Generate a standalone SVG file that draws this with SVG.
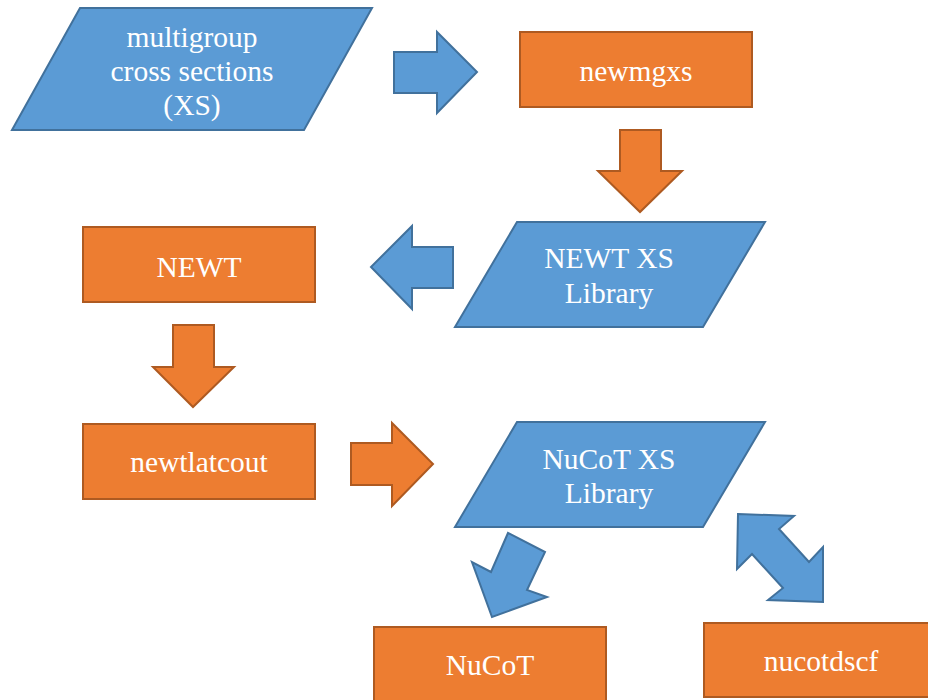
<svg xmlns="http://www.w3.org/2000/svg" width="928" height="700" viewBox="0 0 928 700">
  <style>
    .data { fill: #5B9BD5; stroke: #41719C; stroke-width: 2; stroke-linejoin: miter; }
    .proc { fill: #ED7D31; stroke: #AE5A21; stroke-width: 2; }
    .blue-arrow { fill: #5B9BD5; stroke: #41719C; stroke-width: 2; stroke-linejoin: miter; }
    .orange-arrow { fill: #ED7D31; stroke: #AE5A21; stroke-width: 2; stroke-linejoin: miter; }
    .label { font-family: 'Liberation Serif', 'Times New Roman', serif; font-size: 29.5px; fill: #FFFFFF; text-anchor: middle; }
  </style>
  <rect width="928" height="700" fill="#FFFFFF"/>

  <!-- block arrows linking the steps -->
  <g id="connectors">
    <polygon class="blue-arrow" points="394,52 437,52 437,32 477,72 437,113 437,93 394,93"/>
    <polygon class="orange-arrow" points="620,130 661,130 661,171 682,171 640,212 598,171 620,171"/>
    <polygon class="blue-arrow" points="453,247 412,247 412,226 371,267 412,309 412,288 453,288"/>
    <polygon class="orange-arrow" points="173,325 214,325 214,367 234,367 193,407 153,367 173,367"/>
    <polygon class="orange-arrow" points="351,443 392,443 392,423 433,464 392,506 392,485 351,485"/>
    <polygon class="blue-arrow" points="508,533 545,552 527,590 547,597 492,617 472,562 491,572"/>
    <polygon class="blue-arrow" points="738,514 794,516 779,529 809,562 823,547 823,602 768,600 783,588 752,554 737,569"/>
  </g>

  <g id="mg-xs">
    <polygon class="data" points="80,8 372,8 304,130 12,130"/>
    <text class="label" x="192" y="47">multigroup</text>
    <text class="label" x="192" y="81">cross sections</text>
    <text class="label" x="192" y="115">(XS)</text>
  </g>

  <g id="newmgxs">
    <rect class="proc" x="520" y="32" width="232" height="75"/>
    <text class="label" x="636" y="81">newmgxs</text>
  </g>

  <g id="newt-xs-library">
    <polygon class="data" points="517,222 765,222 703,327 455,327"/>
    <text class="label" x="609" y="268">NEWT XS</text>
    <text class="label" x="609" y="303">Library</text>
  </g>

  <g id="newt">
    <rect class="proc" x="83" y="227" width="232" height="75"/>
    <text class="label" x="199" y="277">NEWT</text>
  </g>

  <g id="newtlatcout">
    <rect class="proc" x="83" y="424" width="232" height="75"/>
    <text class="label" x="199" y="472">newtlatcout</text>
  </g>

  <g id="nucot-xs-library">
    <polygon class="data" points="517,422 765,422 703,527 455,527"/>
    <text class="label" x="609" y="469">NuCoT XS</text>
    <text class="label" x="609" y="503">Library</text>
  </g>

  <g id="nucot">
    <rect class="proc" x="374" y="627" width="232" height="80"/>
    <text class="label" x="490" y="675">NuCoT</text>
  </g>

  <g id="nucotdscf">
    <rect class="proc" x="704" y="623" width="232" height="74"/>
    <text class="label" x="821" y="671">nucotdscf</text>
  </g>
</svg>
